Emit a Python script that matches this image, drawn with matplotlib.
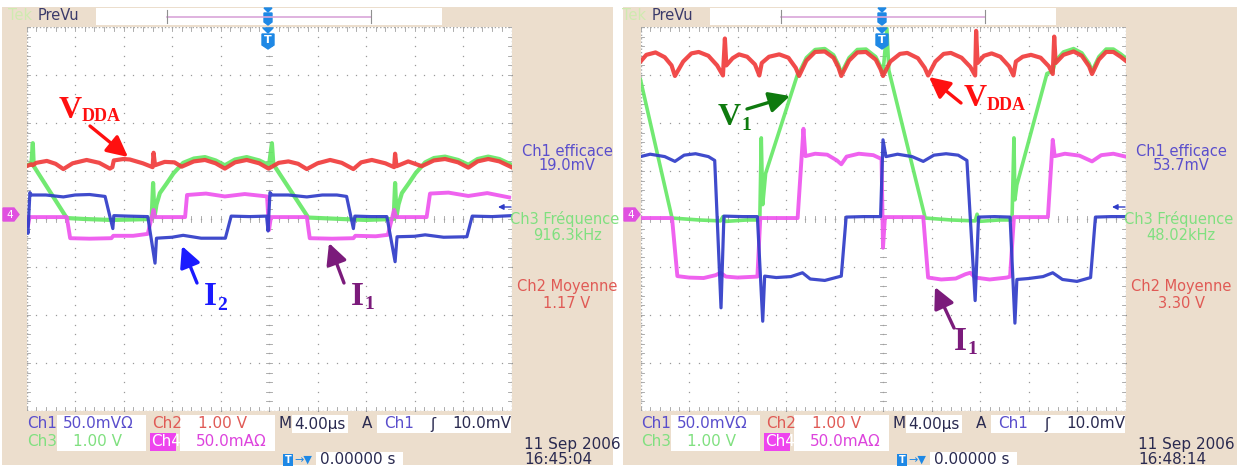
import matplotlib
matplotlib.use("Agg")
import matplotlib.pyplot as plt
import numpy as np
from matplotlib.patches import Rectangle, Polygon

# ---- trace data, screen divisions (x: 0..10 div of 4 us, y: -4..4 div) ----
left_red = [(0.00, 1.10), (0.10, 1.14), (0.13, 1.12), (0.20, 1.17), (0.42, 1.21), (0.60, 1.15), (0.76, 1.04),
            (0.95, 1.16), (1.24, 1.23), (1.50, 1.17), (1.72, 1.05), (1.77, 1.08), (1.80, 1.22), (2.00, 1.25),
            (2.13, 1.24), (2.40, 1.16), (2.60, 1.08), (2.62, 1.38), (2.65, 1.12), (2.85, 1.19), (3.05, 1.18),
            (3.20, 1.09), (3.45, 1.20), (3.68, 1.23), (3.90, 1.16), (4.09, 1.05), (4.30, 1.18), (4.54, 1.23),
            (4.80, 1.16), (4.99, 1.05), (5.06, 1.09), (5.20, 1.17), (5.40, 1.20), (5.60, 1.15), (5.78, 1.04),
            (6.00, 1.16), (6.26, 1.23), (6.50, 1.17), (6.74, 1.04), (6.90, 1.18), (7.12, 1.23), (7.40, 1.16),
            (7.58, 1.08), (7.60, 1.36), (7.63, 1.10), (7.87, 1.20), (8.15, 1.10), (8.40, 1.22), (8.63, 1.25),
            (8.90, 1.18), (9.11, 1.07), (9.30, 1.20), (9.52, 1.25), (9.75, 1.20), (10.0, 1.08)]
left_green = [(0.00, 1.12), (0.10, 1.15), (0.13, 1.58), (0.15, 1.10), (0.83, 0.02), (1.20, 0.00), (1.75, -0.02),
              (2.20, -0.01), (2.58, 0.00), (2.61, 0.75), (2.64, 0.05), (2.68, 0.30), (2.75, 0.54), (2.89, 0.74),
              (3.03, 0.95), (3.23, 1.17), (3.45, 1.26), (3.68, 1.29), (3.90, 1.22), (4.09, 1.12), (4.30, 1.24),
              (4.54, 1.29), (4.80, 1.22), (5.00, 1.12), (5.06, 1.58), (5.09, 1.14), (5.81, 0.03), (6.50, 0.00),
              (7.00, -0.02), (7.57, 0.00), (7.60, 0.75), (7.63, 0.05), (7.67, 0.30), (7.74, 0.54), (7.88, 0.74),
              (8.02, 0.95), (8.22, 1.18), (8.40, 1.27), (8.63, 1.30), (8.90, 1.23), (9.11, 1.13), (9.30, 1.25),
              (9.52, 1.30), (9.75, 1.25), (10.0, 1.13)]
left_magenta = [(0.00, 0.04), (0.03, -0.15), (0.06, 0.04), (0.83, 0.04), (0.90, -0.40), (1.30, -0.41),
                (1.75, -0.40), (1.79, -0.35), (2.20, -0.35), (2.50, -0.31), (2.62, 0.19), (2.65, 0.04),
                (3.27, 0.04), (3.31, 0.50), (3.70, 0.53), (4.09, 0.47), (4.50, 0.52), (4.96, 0.47), (5.00, -0.23),
                (5.04, 0.04), (5.78, 0.04), (5.84, -0.40), (6.30, -0.41), (6.74, -0.40), (6.78, -0.35),
                (7.20, -0.36), (7.45, -0.33), (7.58, 0.19), (7.62, 0.04), (8.25, 0.04), (8.32, 0.53),
                (8.70, 0.55), (9.11, 0.48), (9.50, 0.54), (9.95, 0.45)]
left_blue = [(0.00, -0.05), (0.03, -0.30), (0.07, 0.55), (0.10, 0.50), (0.40, 0.50), (0.76, 0.46), (1.00, 0.50),
             (1.30, 0.51), (1.62, 0.47), (1.78, -0.20), (1.80, 0.07), (2.10, 0.06), (2.50, 0.05), (2.65, -0.92),
             (2.68, -0.40), (3.00, -0.38), (3.23, -0.34), (3.60, -0.40), (4.10, -0.40), (4.22, 0.06),
             (4.60, 0.05), (4.95, 0.06), (4.98, -0.25), (5.02, 0.55), (5.06, 0.50), (5.40, 0.50), (5.78, 0.46),
             (6.10, 0.50), (6.40, 0.50), (6.60, 0.47), (6.74, -0.20), (6.77, 0.06), (7.10, 0.05), (7.43, 0.05),
             (7.60, -0.89), (7.64, -0.37), (8.00, -0.36), (8.22, -0.33), (8.60, -0.38), (9.08, -0.37),
             (9.19, 0.06), (9.60, 0.05), (10.0, 0.07)]

right_red = [(0.00, 3.28), (0.12, 3.42), (0.31, 3.47), (0.50, 3.37), (0.64, 3.20), (0.71, 2.98), (0.88, 3.28),
             (1.05, 3.45), (1.20, 3.48), (1.40, 3.40), (1.58, 3.20), (1.70, 2.99), (1.74, 3.76), (1.77, 3.20),
             (1.90, 3.35), (2.03, 3.43), (2.20, 3.38), (2.36, 3.22), (2.45, 2.99), (2.50, 3.25), (2.65, 3.38),
             (2.86, 3.43), (3.05, 3.36), (3.20, 3.15), (3.27, 2.98), (3.42, 3.30), (3.60, 3.48), (3.80, 3.49),
             (3.98, 3.36), (4.08, 3.16), (4.14, 2.98), (4.30, 3.30), (4.47, 3.47), (4.65, 3.48), (4.85, 3.32),
             (4.95, 3.12), (5.00, 2.98), (5.15, 3.28), (5.35, 3.44), (5.50, 3.46), (5.72, 3.35), (5.86, 3.15),
             (5.93, 2.99), (6.08, 3.28), (6.25, 3.44), (6.40, 3.46), (6.62, 3.36), (6.80, 3.17), (6.90, 2.99),
             (6.92, 3.92), (6.95, 3.25), (7.08, 3.40), (7.24, 3.45), (7.42, 3.38), (7.60, 3.18), (7.69, 2.99),
             (7.74, 3.28), (7.88, 3.38), (8.05, 3.42), (8.25, 3.36), (8.42, 3.18), (8.50, 3.02), (8.53, 3.80),
             (8.56, 3.25), (8.72, 3.42), (8.93, 3.49), (9.10, 3.40), (9.25, 3.18), (9.31, 3.02), (9.45, 3.32),
             (9.60, 3.48), (9.75, 3.48), (9.90, 3.38), (10.0, 3.30)]
right_green = [(0.00, 2.90), (0.65, 0.02), (1.20, -0.02), (1.65, -0.04), (1.70, 0.05), (1.75, -0.05),
               (2.20, -0.02), (2.46, -0.02), (2.49, 1.69), (2.52, 0.30), (2.58, 0.95), (3.24, 3.02),
               (3.27, 3.05), (3.42, 3.36), (3.60, 3.53), (3.80, 3.55), (3.98, 3.42), (4.08, 3.22), (4.14, 3.04),
               (4.30, 3.36), (4.47, 3.53), (4.65, 3.54), (4.85, 3.38), (4.95, 3.18), (5.00, 3.04), (5.08, 3.97),
               (5.12, 3.10), (5.87, 0.02), (6.40, -0.02), (6.90, -0.04), (6.94, 0.10), (6.98, -0.05),
               (7.40, -0.02), (7.66, -0.02), (7.70, 1.69), (7.72, 0.40), (7.76, 0.71), (8.38, 3.03),
               (8.50, 3.08), (8.56, 3.30), (8.72, 3.48), (8.93, 3.55), (9.10, 3.46), (9.25, 3.24), (9.31, 3.08),
               (9.45, 3.38), (9.60, 3.54), (9.75, 3.54), (9.90, 3.44), (10.0, 3.36)]
right_magenta = [(0.00, 0.02), (0.65, 0.02), (0.76, -1.19), (1.00, -1.22), (1.30, -1.23), (1.55, -1.17),
                 (1.65, -1.12), (1.76, -1.20), (2.00, -1.22), (2.41, -1.20), (2.47, 0.02), (3.24, 0.02),
                 (3.36, 1.88), (3.40, 1.31), (3.60, 1.36), (3.85, 1.34), (4.05, 1.22), (4.14, 1.14), (4.25, 1.30),
                 (4.50, 1.36), (4.80, 1.33), (4.97, 1.25), (5.00, -0.60), (5.04, 0.04), (5.83, 0.04),
                 (5.93, -1.22), (6.20, -1.26), (6.50, -1.24), (6.70, -1.15), (6.80, -1.12), (6.90, -1.22),
                 (7.20, -1.26), (7.55, -1.22), (7.62, -1.20), (7.70, 0.04), (8.40, 0.04), (8.50, 1.65),
                 (8.54, 1.31), (8.75, 1.36), (9.05, 1.32), (9.31, 1.20), (9.50, 1.33), (9.75, 1.36), (10.0, 1.30)]
right_blue = [(0.00, 1.30), (0.20, 1.35), (0.50, 1.30), (0.71, 1.20), (0.90, 1.33), (1.135, 1.36), (1.40, 1.30),
              (1.53, 1.22), (1.66, -1.85), (1.72, 0.06), (2.10, 0.05), (2.41, 0.05), (2.52, -2.13),
              (2.56, -1.19), (2.80, -1.22), (3.10, -1.20), (3.34, -1.12), (3.50, -1.25), (3.80, -1.28),
              (4.14, -1.19), (4.24, 0.04), (4.60, 0.05), (4.95, 0.05), (5.00, 1.65), (5.06, 1.30), (5.30, 1.35),
              (5.60, 1.30), (5.83, 1.20), (6.05, 1.33), (6.30, 1.36), (6.55, 1.33), (6.73, 1.22), (6.90, -1.70),
              (6.97, 0.04), (7.30, 0.05), (7.62, 0.04), (7.72, -2.17), (7.76, -1.26), (8.00, -1.24),
              (8.30, -1.20), (8.50, -1.12), (8.70, -1.26), (9.00, -1.30), (9.28, -1.22), (9.38, 0.04),
              (9.70, 0.05), (10.0, 0.05)]

left_meas = ["19.0mV", "916.3kHz", "1.17 V"]
right_meas = ["53.7mV", "48.02kHz", "3.30 V"]
timestamps = [("11 Sep 2006", "16:45:04"), ("11 Sep 2006", "16:48:14")]

W, H = 1239, 467
BEIGE = "#ecdecd"
C_RED, C_GREEN, C_BLUE, C_MAG = "#f03c3c", "#66e866", "#2f3cc8", "#ee55ee"
T_CH1, T_CH2, T_CH3, T_CH4, T_DARK = "#5a4ecc", "#e05a55", "#80e080", "#dd44dd", "#2a2a50"

fig = plt.figure(figsize=(W / 100, H / 100), dpi=100)
fig.patch.set_facecolor("white")
bg = fig.add_axes([0, 0, 1, 1], zorder=0)
bg.set_xlim(0, W); bg.set_ylim(H, 0); bg.axis("off")
ov = fig.add_axes([0, 0, 1, 1], zorder=5)
ov.set_xlim(0, W); ov.set_ylim(H, 0); ov.axis("off"); ov.patch.set_alpha(0)


def txt(ax, x, y, s, color, size=10.5, ha="left", **kw):
    ax.text(x, y, s, color=color, fontsize=size, ha=ha, va="center", family="DejaVu Sans", **kw)


def box(ax, x0, x1, y0, y1, color="white"):
    ax.add_patch(Rectangle((x0, y0), x1 - x0, y1 - y0, facecolor=color, edgecolor="none"))


def scope(dx, frame, traces, meas, stamp):
    # screenshot frame
    box(bg, frame[0], frame[1], 7, 465, BEIGE)
    txt(bg, dx + 8, 16, "Tek", "#cfeab0", 10.5)
    txt(bg, dx + 38, 16, "PreVu", "#3a3a6a", 10.5)
    box(bg, dx + 96, dx + 442, 8, 25)
    bg.plot([dx + 167, dx + 371], [17, 17], color="#d9a6d9", lw=1.2)
    for bx in (dx + 167, dx + 371):
        bg.plot([bx, bx], [10, 23], color="#909090", lw=0.8)
    tx = dx + 268
    bg.add_patch(Polygon([(tx - 4, 8), (tx + 4, 8), (tx, 12)], color="#1e88e5"))
    bg.add_patch(Polygon([(tx - 4, 13), (tx + 4, 13), (tx + 4, 22), (tx, 25), (tx - 4, 22)], color="#1e88e5"))
    ov.add_patch(Polygon([(tx - 5, 28), (tx + 5, 28), (tx, 33)], color="#1e88e5"))
    ov.add_patch(Polygon([(tx - 6, 34), (tx + 6, 34), (tx + 6, 45), (tx, 49), (tx - 6, 45)], color="#1e88e5"))
    ov.text(tx, 40, "T", color="white", fontsize=8, ha="center", va="center", weight="bold")
    mx = frame[0] + 1
    ov.add_patch(Polygon([(mx, 208), (mx + 11, 208), (mx + 16, 214.5), (mx + 11, 221), (mx, 221)],
                         color="#e050e0"))
    ov.text(mx + 7, 214.5, "4", color="white", fontsize=7.5, ha="center", va="center")
    ov.annotate("", xy=(dx + 498, 207), xytext=(dx + 511, 207),
                arrowprops=dict(arrowstyle="-|>", color=C_BLUE, lw=1, mutation_scale=8, shrinkA=0, shrinkB=0))

    # graticule
    ax = fig.add_axes([(dx + 26.5) / W, 1 - 411 / H, 485 / W, 384 / H], zorder=2)
    ax.set_xlim(0, 10); ax.set_ylim(-4, 4)
    ax.set_xticks([]); ax.set_yticks([])
    for s in ax.spines.values():
        s.set_visible(False)
    ax.set_facecolor("white")
    gx = np.arange(0, 10.01, 0.2)
    gy = np.arange(-4, 4.01, 0.2)
    for k in range(1, 10):
        ax.plot(np.full(gy.size, k), gy, ls="none", marker="s", ms=0.9, color="#9a9a9a", mew=0)
    for k in range(-3, 4):
        ax.plot(gx, np.full(gx.size, k), ls="none", marker="s", ms=0.9, color="#9a9a9a", mew=0)
    for v in gx:
        ax.plot([v, v], [-0.07, 0.07], color="#a0a0a0", lw=0.6)
        ax.plot([v, v], [3.92, 4.0], color="#a0a0a0", lw=0.6)
        ax.plot([v, v], [-4.0, -3.92], color="#a0a0a0", lw=0.6)
    for v in gy:
        ax.plot([4.93, 5.07], [v, v], color="#a0a0a0", lw=0.6)
        ax.plot([0, 0.08], [v, v], color="#a0a0a0", lw=0.6)
        ax.plot([9.92, 10], [v, v], color="#a0a0a0", lw=0.6)
    ax.add_patch(Rectangle((0, -4), 10, 8, fill=False, edgecolor="#a8a8a8", lw=1, ls=(0, (1, 1.5))))
    for pts, c, lw in traces:
        xs, ys = zip(*pts)
        ax.plot(xs, ys, color=c, lw=lw, solid_joinstyle="round", alpha=0.92)

    # measurements on the right
    cx = dx + 567
    txt(bg, cx, 151, "Ch1 efficace", T_CH1, 10.5, ha="center")
    txt(bg, cx, 166, meas[0], T_CH1, 10.5, ha="center")
    txt(ov, cx - 2, 219, "Ch3 Fréquence", T_CH3, 10.5, ha="center")
    txt(bg, cx, 236, meas[1], T_CH3, 10.5, ha="center")
    txt(bg, cx, 287, "Ch2 Moyenne", T_CH2, 10.5, ha="center")
    txt(bg, cx, 303, meas[2], T_CH2, 10.5, ha="center")

    # bottom readouts
    y1, y2, y3 = 424, 442, 460
    fs = 11
    txt(bg, dx + 27, y1, "Ch1", T_CH1, fs)
    box(bg, dx + 57, dx + 146, y1 - 9, y1 + 9)
    txt(bg, dx + 63, y1, "50.0mVΩ", T_CH1, fs)
    txt(bg, dx + 152, y1, "Ch2", T_CH2, fs)
    box(bg, dx + 180, dx + 275, y1 - 9, y1 + 9)
    txt(bg, dx + 198, y1, "1.00 V", T_CH2, fs)
    txt(bg, dx + 278, y1, "M", T_DARK, fs)
    box(bg, dx + 292, dx + 348, y1 - 9, y1 + 9)
    txt(bg, dx + 294, y1, "4.00µs", T_DARK, fs)
    txt(bg, dx + 362, y1, "A", T_DARK, fs)
    box(bg, dx + 377, dx + 511, y1 - 9, y1 + 9)
    txt(bg, dx + 384, y1, "Ch1", T_CH1, fs)
    txt(bg, dx + 430, y1, "ʃ", T_DARK, fs)
    txt(bg, dx + 452, y1, "10.0mV", T_DARK, fs)
    txt(bg, dx + 27, y2, "Ch3", T_CH3, fs)
    box(bg, dx + 57, dx + 146, y2 - 9, y2 + 9)
    txt(bg, dx + 73, y2, "1.00 V", T_CH3, fs)
    box(bg, dx + 150, dx + 176, y2 - 9, y2 + 9, "#ee44ee")
    txt(bg, dx + 151, y2, "Ch4", "white", fs)
    box(bg, dx + 180, dx + 275, y2 - 9, y2 + 9)
    txt(bg, dx + 196, y2, "50.0mAΩ", T_CH4, fs)
    box(bg, dx + 283, dx + 293, y3 - 6, y3 + 6, "#1e88e5")
    bg.text(dx + 288, y3, "T", color="white", fontsize=7, ha="center", va="center", weight="bold")
    txt(bg, dx + 294, y3, "→▼", "#1e88e5", 8)
    box(bg, dx + 316, dx + 403, y3 - 8, y3 + 8)
    txt(bg, dx + 320, y3, "0.00000 s", T_DARK, fs)
    txt(bg, dx + 524, 444, stamp[0], T_DARK, fs)
    txt(bg, dx + 524, 460, stamp[1], T_DARK, fs)


scope(0, (2, 613), [(left_green, C_GREEN, 3.0), (left_magenta, C_MAG, 2.8), (left_blue, C_BLUE, 2.3),
                    (left_red, C_RED, 3.0)], left_meas, timestamps[0])
scope(614, (623, 1237), [(right_green, C_GREEN, 2.6), (right_magenta, C_MAG, 2.8), (right_blue, C_BLUE, 2.3),
                         (right_red, C_RED, 3.0)], right_meas, timestamps[1])


# hand-drawn labels and arrows
def label(x, y, main, sub, color, size=23, subsize=13, sub_dx=0, sub_dy=4):
    t = ov.text(x, y, main, color=color, fontsize=size, family="Liberation Serif", weight="bold",
                ha="left", va="baseline")
    fig.canvas.draw()
    bb = t.get_window_extent()
    xr = bb.x1 / fig.dpi * 100
    ov.text(xr + sub_dx, y + sub_dy, sub, color=color, fontsize=subsize, family="Liberation Serif",
            weight="bold", ha="left", va="baseline")


def arrow(tail, head, color):
    ov.annotate("", xy=head, xytext=tail,
                arrowprops=dict(arrowstyle="-|>,head_length=0.9,head_width=0.45", color=color, lw=2.4,
                                mutation_scale=14, shrinkA=0, shrinkB=0))


label(59, 118, "V", "DDA", "#ff1010", sub_dy=3)
arrow((90, 126), (128, 157), "#ff1010")
label(204, 305, "I", "2", "#1a1aff", size=24, subsize=14, sub_dy=5)
arrow((197, 283), (182, 246), "#1a1aff")
label(351, 305, "I", "1", "#7b1b7b", size=24, subsize=14, sub_dy=4)
arrow((344, 283), (329, 243), "#7b1b7b")
label(718, 125, "V", "1", "#0e7a0e", size=23, subsize=14, sub_dy=5)
arrow((747, 109), (790, 96), "#0e7a0e")
label(964, 106, "V", "DDA", "#ff1010", sub_dy=4)
arrow((961, 103), (929, 77), "#ff1010")
label(954, 350, "I", "1", "#7b1b7b", size=24, subsize=14, sub_dy=4)
arrow((954, 328), (935, 287), "#7b1b7b")

fig.savefig("out.png", dpi=100, facecolor=fig.get_facecolor())
